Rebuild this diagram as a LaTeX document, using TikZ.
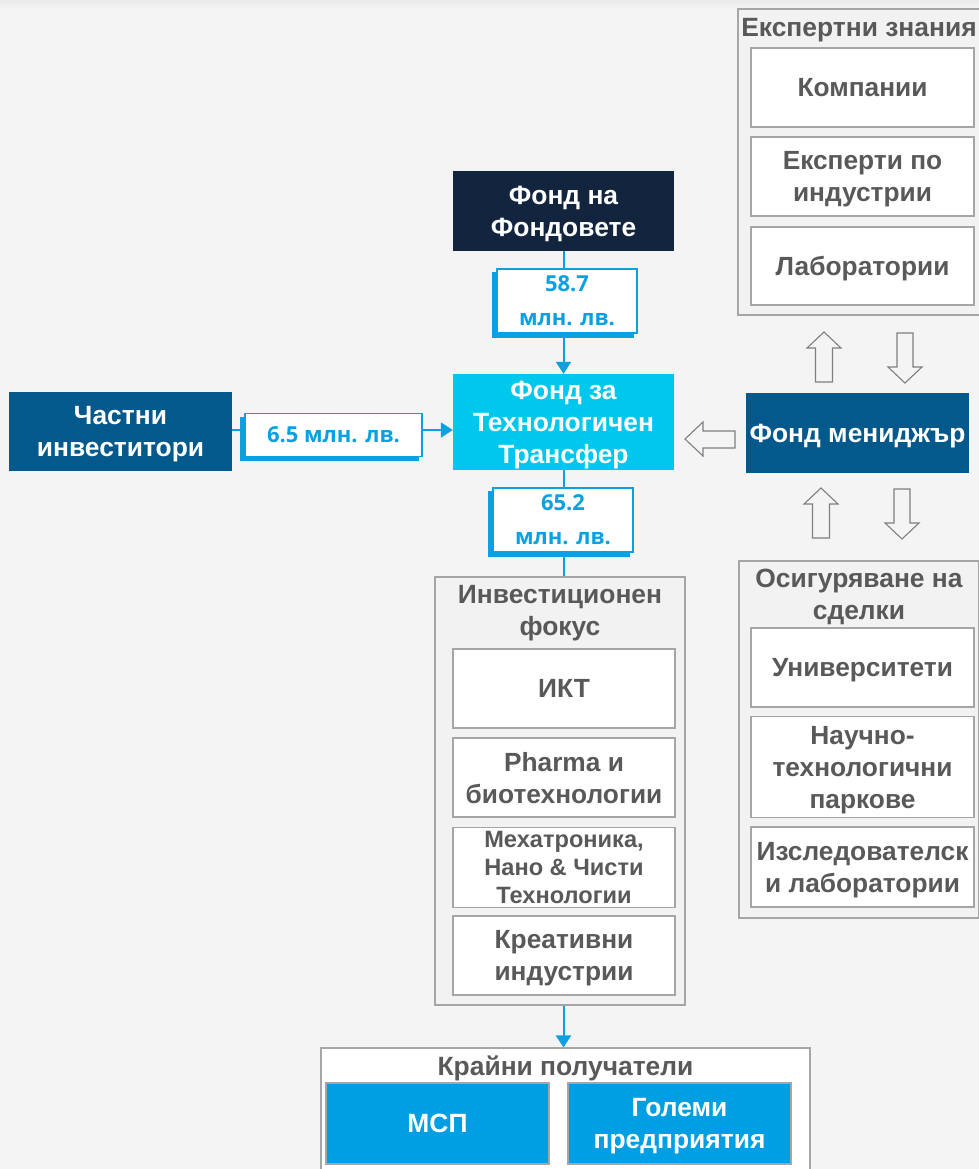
\documentclass[tikz,border=0pt]{standalone}
\usepackage{fontspec}
\setmainfont{Liberation Sans}
\newfontfamily\amtfont{Open Sans}
\usetikzlibrary{shadows,arrows.meta}
\definecolor{bgc}{HTML}{F4F4F4}
\definecolor{contc}{HTML}{F2F2F2}
\definecolor{bordergray}{HTML}{A6A6A6}
\definecolor{textgray}{HTML}{595959}
\definecolor{navy}{HTML}{13243F}
\definecolor{cyanbox}{HTML}{00C8EC}
\definecolor{darkblue}{HTML}{03598B}
\definecolor{brightblue}{HTML}{009FE3}
\definecolor{linkblue}{HTML}{0BA0E0}
\definecolor{arrgray}{HTML}{7F7F7F}
\newcommand\blockup[4]{% cx, tip y, headbase y, bottom y
  \draw[blockarr] (#1,#2) -- (#1+17,#3) -- (#1+8.5,#3) -- (#1+8.5,#4) -- (#1-8.5,#4) -- (#1-8.5,#3) -- (#1-17,#3) -- cycle;}
\newcommand\blockdown[4]{% cx, top y, headbase y, tip y
  \draw[blockarr] (#1-8,#2) -- (#1+8,#2) -- (#1+8,#3) -- (#1+17,#3) -- (#1,#4) -- (#1-17,#3) -- (#1-8,#3) -- cycle;}
\begin{document}
\begin{tikzpicture}[x=1pt,y=-1pt,
  solid/.style={inner sep=0pt, align=center, text=white, text depth=-2pt, font=\bfseries\fontsize{26.4}{32}\selectfont},
  whitebox/.style={draw=bordergray, line width=1.1pt, fill=white, text=textgray, inner sep=0pt, align=center,
     text depth=-2pt, font=\bfseries\fontsize{26.3}{32}\selectfont, minimum width=223pt},
  container/.style={draw=bordergray, line width=1.1pt, fill=contc, inner sep=0pt},
  title/.style={text=textgray, align=center, inner sep=0pt, text depth=-2pt, font=\bfseries\fontsize{26.4}{32}\selectfont},
  amount/.style={draw=linkblue, line width=1.1pt, fill=white, text=linkblue, inner sep=0pt, align=center,
     font=\amtfont\bfseries\fontsize{22}{34}\selectfont,
     copy shadow={shadow xshift=-4pt, shadow yshift=-4pt, fill=linkblue, draw=linkblue}},
  link/.style={draw=linkblue, line width=2pt},
  linkarr/.style={link, -{Triangle[length=12pt,width=15pt]}},
  blockarr/.style={draw=arrgray, line width=1.1pt, fill=bgc, line join=miter}]
\useasboundingbox (0,0) rectangle (979,1169);
\fill[bgc] (0,0) rectangle (979,1169);
\shade[top color=black!8, bottom color=bgc] (0,0) rectangle (979,9);

% containers
\node[container, minimum width=242pt, minimum height=306pt] (expc) at (859,162) {};
\node[title] (expt) at (859,27) {Експертни знания};
\node[container, minimum width=240pt, minimum height=357pt] (dealc) at (859,739.5) {};
\node[title] (dealt) at (859,594) {Осигуряване на\\сделки};
\node[container, minimum width=250pt, minimum height=428pt] (inv) at (560,791) {};
\node[title] (invt) at (560,610) {Инвестиционен\\фокус};
\node[draw=bordergray, line width=1.1pt, fill=white, minimum width=489pt, minimum height=140pt, inner sep=0pt] (kr) at (565.5,1118) {};
\node[title] (krt) at (565.5,1066) {Крайни получатели};

% expert boxes
\node[whitebox, minimum height=79pt] (komp) at (862.5,87.5) {Компании};
\node[whitebox, minimum height=79pt] (eksp) at (862.5,176.5) {Експерти по\\индустрии};
\node[whitebox, minimum height=78pt] (lab) at (862.5,266) {Лаборатории};

% deal boxes
\node[whitebox, minimum height=79pt] (univ) at (862.5,667.5) {Университети};
\node[whitebox, minimum height=101pt] (park) at (862.5,767) {Научно-\\технологични\\паркове};
\node[whitebox, minimum height=80pt] (izsl) at (862.5,867) {Изследователск\\и лаборатории};

% investment focus boxes
\node[whitebox, minimum width=222pt, minimum height=79pt] (ikt) at (564,688.5) {ИКТ};
\node[whitebox, minimum width=222pt, minimum height=79pt] (pharma) at (564,777.5) {Pharma и\\биотехнологии};
\node[whitebox, minimum width=222pt, minimum height=80pt, text depth=0pt, font=\bfseries\fontsize{23.6}{28}\selectfont] (meh) at (564,867.5) {Мехатроника,\\Нано \& Чисти\\Технологии};
\node[whitebox, minimum width=222pt, minimum height=79pt] (krea) at (564,955.5) {Креативни\\индустрии};

% end recipients
\node[solid, draw=bordergray, line width=1.1pt, fill=brightblue, minimum width=223pt, minimum height=81pt] (msp) at (437.5,1123.5) {МСП};
\node[solid, draw=bordergray, line width=1.1pt, fill=brightblue, minimum width=223pt, minimum height=81pt] (golemi) at (679.5,1123.5) {Големи\\предприятия};

% main nodes
\node[solid, fill=navy, minimum width=221pt, minimum height=79pt] (ff) at (563.5,211) {Фонд на\\Фондовете};
\node[solid, fill=cyanbox, minimum width=221pt, minimum height=96pt] (tt) at (563.5,422) {Фонд за\\Технологичен\\Трансфер};
\node[solid, fill=darkblue, minimum width=223pt, minimum height=79pt] (pi) at (120.5,431) {Частни\\инвеститори};
\node[solid, fill=darkblue, minimum width=223pt, minimum height=80pt] (fm) at (857.5,433) {Фонд мениджър};

% connectors
\coordinate (piE) at (232,430);
\draw[linkarr] (ff.south) -- (tt.north);
\draw[linkarr] (piE) -- (piE -| tt.west);
\draw[link] (tt.south) -- (inv.north -| tt.south);
\draw[linkarr] (inv.south -| tt.south) -- (kr.north -| tt.south);

% amounts
\node[amount, minimum width=140pt, minimum height=64pt] (a1) at (567,301) {58.7\\млн. лв.};
\node[amount, minimum width=177pt, minimum height=43pt, font=\amtfont\bfseries\fontsize{22}{30}\selectfont] (a2) at (333.5,435) {6.5 млн. лв.};
\node[amount, minimum width=140pt, minimum height=64pt] (a3) at (563,520) {65.2\\млн. лв.};

% block arrows
\draw[blockarr] (685,439) -- (703,422) -- (703,431) -- (735,431) -- (735,448) -- (703,448) -- (703,456) -- cycle;
\blockup{824}{332}{348}{382}
\blockdown{905}{333}{367}{383}
\blockup{821}{488}{504}{538}
\blockdown{902}{489}{523}{539}
\end{tikzpicture}
\end{document}
